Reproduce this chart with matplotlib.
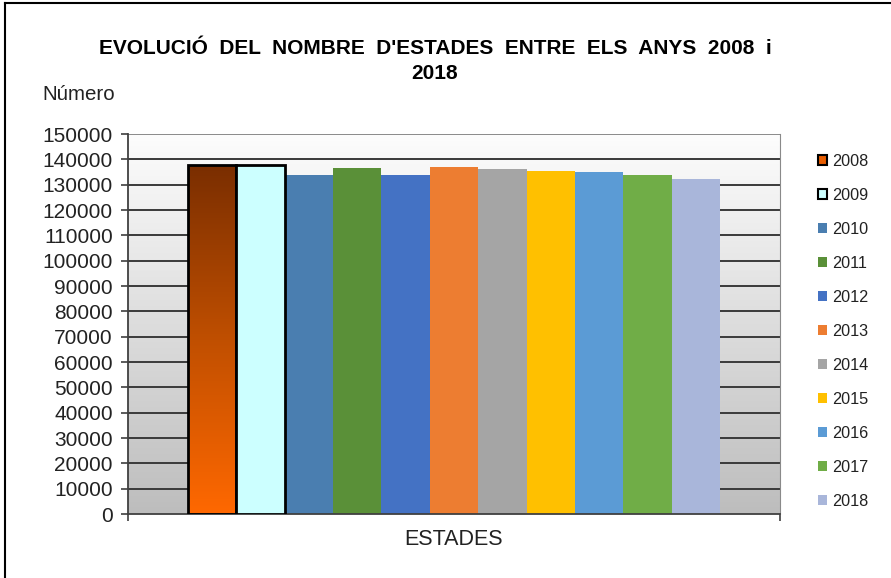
import numpy as np
import matplotlib
matplotlib.use("Agg")
import matplotlib.pyplot as plt
from matplotlib.colors import LinearSegmentedColormap
from matplotlib.lines import Line2D
from matplotlib.patches import Patch

plt.rcParams["font.family"] = ["Liberation Sans", "DejaVu Sans"]

# Dades
anys = ["2008", "2009", "2010", "2011", "2012", "2013",
        "2014", "2015", "2016", "2017", "2018"]
estades = [137700, 137700, 133900, 136600, 133900, 137000,
           136200, 135400, 134900, 133900, 132400]
colors = ["#e85d00", "#ccffff", "#4a7eb0", "#5a9038", "#4472c4", "#ed7d31",
          "#a5a5a5", "#ffc000", "#5b9bd5", "#70ad47", "#a9b6da"]
yticks = list(range(0, 150001, 10000))

fig = plt.figure(figsize=(8.91, 5.78), dpi=100)
ax = fig.add_axes([128 / 891, 64 / 578, 652 / 891, 380 / 578])

ax.set_xlim(-0.5, 0.5)
ax.set_ylim(0, 150000)

# fons degradat de l'àrea del gràfic
bg = LinearSegmentedColormap.from_list("bg", ["#fdfdfd", "#bdbdbd"])
grad = np.linspace(0, 1, 256).reshape(-1, 1)
ax.imshow(grad, cmap=bg, aspect="auto", extent=[-0.5, 0.5, 0, 150000],
          origin="upper", zorder=0)

for y in yticks[1:]:
    ax.axhline(y, color="#3a3a3a" if y < 150000 else "#8a8a8a",
               lw=1.4, zorder=1)

n = len(anys)
group = 0.816
w = group / n
xs = -group / 2 + w / 2 + np.arange(n) * w

bars = ax.bar(xs, estades, width=w, color=colors, zorder=2, linewidth=0)
for b in bars[:2]:
    b.set_edgecolor("black")
    b.set_linewidth(2)
    b.set_zorder(3)

# degradat de la barra 2008
b0 = bars[0]
b0.set_facecolor("none")
cm0 = LinearSegmentedColormap.from_list("b0", ["#7a2e00", "#c04f00", "#ff6800"])
im = ax.imshow(grad, cmap=cm0, aspect="auto", origin="upper",
               extent=[b0.get_x(), b0.get_x() + b0.get_width(), 0, b0.get_height()],
               zorder=2.5)
im.set_clip_path(b0)

ax.set_yticks(yticks)
ax.set_yticklabels([str(v) for v in yticks], fontsize=15, color="#222222")
ax.tick_params(axis="y", length=5, width=1.2, color="#404040", pad=6)
ax.set_xticks([-0.5, 0.5])
ax.set_xticklabels(["", ""])
ax.tick_params(axis="x", length=5, width=1.2, color="#404040")

ax.spines["top"].set_visible(False)
ax.spines["left"].set_color("#404040")
ax.spines["left"].set_linewidth(1.3)
ax.spines["bottom"].set_color("#404040")
ax.spines["bottom"].set_linewidth(1.3)
ax.spines["right"].set_color("#8a8a8a")

ax.set_xlabel("ESTADES", fontsize=15.5, labelpad=2, color="#222222")

fig.text(435 / 891, 1 - 61 / 578,
         "EVOLUCIÓ  DEL  NOMBRE  D'ESTADES  ENTRE  ELS  ANYS  2008  i\n2018",
         ha="center", va="center", fontsize=15, fontweight="bold",
         linespacing=1.45)
fig.text(42 / 891, 1 - 95 / 578, "Número", ha="left", va="center",
         fontsize=14.8, color="#222222")

handles = []
for i, (a, c) in enumerate(zip(anys, colors)):
    ec = "black" if i < 2 else c
    lw = 1.5 if i < 2 else 0
    handles.append(Patch(facecolor=c, edgecolor=ec, linewidth=lw, label=a))
leg = fig.legend(handles=handles, loc="upper left",
                 bbox_to_anchor=(818 / 891, 1 - 154 / 578),
                 frameon=False, fontsize=11.7, handlelength=0.55,
                 handleheight=0.55, handletextpad=0.3, labelspacing=1.17,
                 borderaxespad=0, borderpad=0)
for t in leg.get_texts():
    t.set_color("#222222")

# marc del gràfic
fig.add_artist(Line2D([5 / 891, 5 / 891], [0, 1 - 3 / 578],
                      color="black", lw=1.5, transform=fig.transFigure))
fig.add_artist(Line2D([5 / 891, 1], [1 - 3 / 578, 1 - 3 / 578],
                      color="black", lw=1.5, transform=fig.transFigure))

fig.savefig("out.png", dpi=100)
